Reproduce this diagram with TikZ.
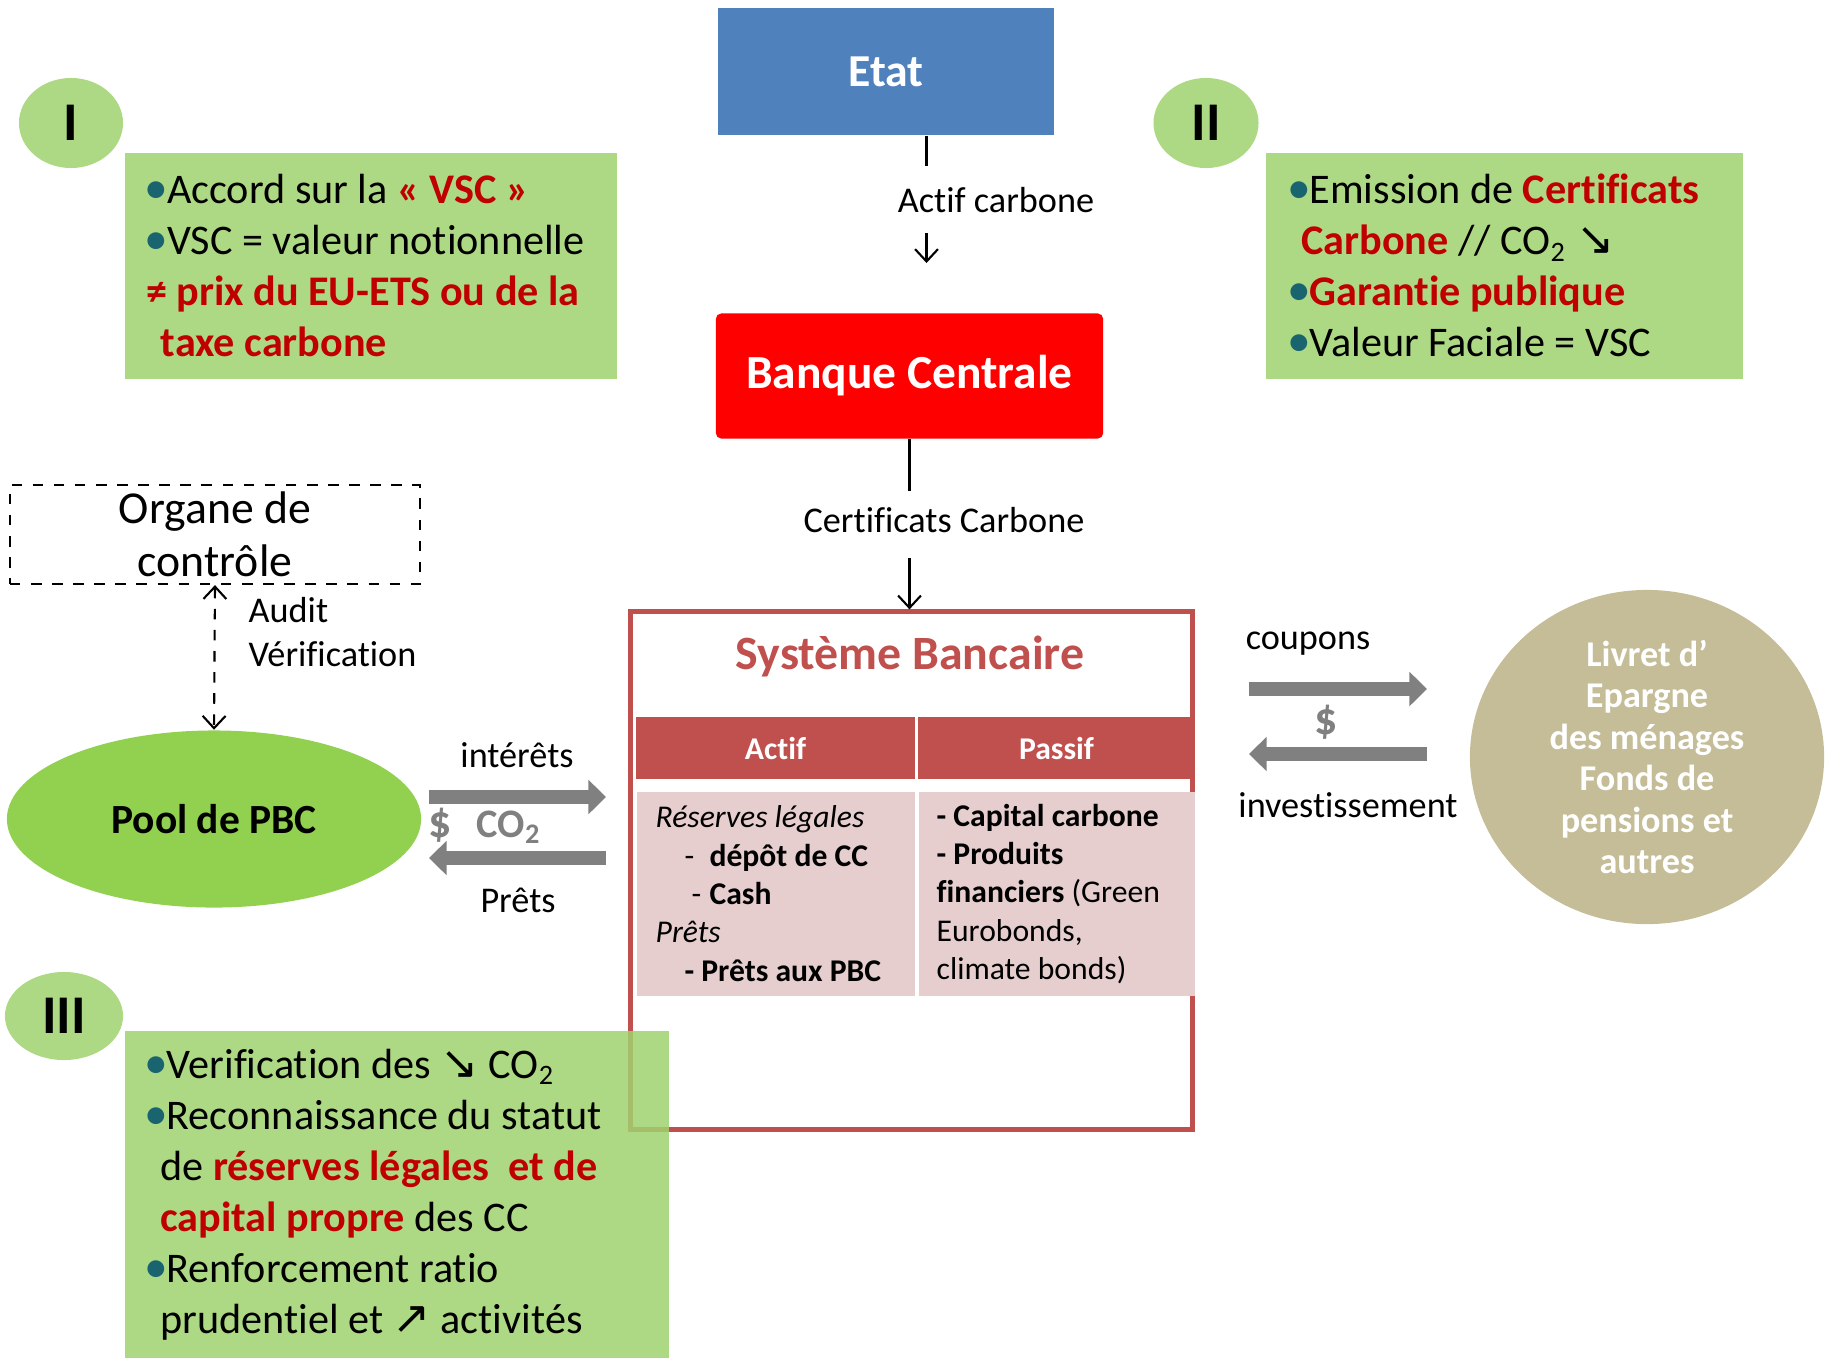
\documentclass[tikz,border=0pt]{standalone}
\usepackage{fontspec}
\setmainfont{Carlito}[Ligatures=NoCommon]
\newfontfamily\symfont{DejaVu Sans}
\usepackage{tikz}
\usetikzlibrary{arrows.meta,shapes.geometric,calc}
\definecolor{etatblue}{RGB}{79,129,189}
\definecolor{bcred}{RGB}{255,0,0}
\definecolor{sysred}{RGB}{192,80,77}
\definecolor{rowpink}{RGB}{230,206,207}
\definecolor{boxgreen}{RGB}{160,210,110}
\definecolor{poolgreen}{RGB}{146,208,80}
\definecolor{livretbeige}{RGB}{196,189,151}
\definecolor{txtred}{RGB}{192,0,0}
\definecolor{bulteal}{RGB}{25,100,110}
\definecolor{flowgrey}{RGB}{128,128,128}
\newcommand{\bul}{\makebox[6pt][c]{\textcolor{bulteal}{\fontsize{13.5}{14}\selectfont •}}}
\newcommand{\rd}[1]{\textcolor{txtred}{\textbf{#1}}}
\newcommand{\sedown}{{\symfont\fontsize{13}{14}\selectfont ↘}}
\newcommand{\neup}{{\symfont\fontsize{13}{14}\selectfont ↗}}

\begin{document}
\begin{tikzpicture}[x=0.01cm,y=-0.01cm,
  greenbox/.style={fill=boxgreen,fill opacity=0.85,text opacity=1,anchor=north west,align=flush left,inner ysep=0pt,font=\fontsize{12}{14.5}\selectfont},
  numcircle/.style={ellipse,fill=boxgreen,fill opacity=0.85,text opacity=1,inner sep=0pt,font=\fontsize{15.5}{18}\selectfont\bfseries},
  flowlabel/.style={inner sep=0pt,font=\fontsize{10.3}{12.5}\selectfont},
  headcell/.style={fill=sysred,text=white,inner sep=0pt,minimum height=0.61cm,font=\fontsize{9}{11}\selectfont\bfseries},
  bodycell/.style={fill=rowpink,anchor=north west,align=flush left,inner ysep=0pt,minimum height=2.04cm,text width=68.3pt,font=\fontsize{9}{10.9}\selectfont},
  thinline/.style={line width=0.6pt},
  thinarrow/.style={line width=0.6pt,-{Straight Barb[length=3.5pt,width=6.5pt]}},
  blockarrow/.style={draw=flowgrey,line width=4pt,-{Triangle[length=5pt,width=9.5pt]}}]
\useasboundingbox (0,0) rectangle (1825,1357);

\node[fill=etatblue,text=white,minimum width=3.36cm,minimum height=1.27cm,font=\fontsize{13}{15}\selectfont\bfseries] (etat) at (886,71.5) {Etat};
\node[fill=bcred,rounded corners=1.5pt,text=white,minimum width=3.87cm,minimum height=1.25cm,font=\fontsize{13.5}{16}\selectfont\bfseries] (banque) at (909.5,376) {Banque Centrale};

\node[flowlabel] (actiflbl) at (996,200) {Actif carbone};
\coordinate (a2) at (926.5,166);
\coordinate (a3) at (926.5,233);
\coordinate (a4) at (926.5,263);
\draw[thinline] (etat.south -| a2) -- (a2);
\draw[thinarrow] (a3) -- (a4);

\node[draw=sysred,line width=1.4pt,minimum width=5.61cm,minimum height=5.17cm] (systeme) at (911.5,870.5) {};
\node[text=sysred,inner sep=0pt,font=\fontsize{13.6}{15}\selectfont\bfseries] (systitle) at (910,656) {Système Bancaire};

\node[flowlabel] (certlbl) at (944,520) {Certificats Carbone};
\coordinate (c1) at ($(banque.south)+(0,52)$);
\coordinate (c2) at ($(banque.south)+(0,119)$);
\draw[thinline] (banque.south) -- (c1);
\draw[thinarrow] (c2) -- (c2 |- systeme.north);

\node[headcell,minimum width=2.79cm] (hactif) at (775.5,748) {Actif};
\node[headcell,minimum width=2.77cm] (hpassif) at (1056.5,748) {Passif};
\node[bodycell,inner xsep=5.4pt] (bactif) at (636,791) {{\itshape Réserves légales}\\
\hspace*{8.2pt}\makebox[7.1pt][l]{-}\textbf{dépôt de CC}\\
\hspace*{10.2pt}\makebox[5.1pt][l]{-}\textbf{Cash}\\
{\itshape Prêts}\\
\hspace*{8.2pt}\textbf{- Prêts aux PBC}};
\node[bodycell,inner xsep=5.1pt] (bpassif) at (918,791) {\textbf{- Capital carbone}\\
\textbf{- Produits}\\
\textbf{financiers} (Green\\
Eurobonds,\\
climate bonds)};

\node[draw,dashed,thinline,minimum width=4.1cm,minimum height=0.99cm,inner sep=0pt,align=center,font=\fontsize{13}{15.2}\selectfont] (organe) at (215,534.5) {Organe de\\contrôle};
\node[ellipse,fill=poolgreen,minimum width=4.14cm,minimum height=1.77cm,inner sep=0pt,font=\fontsize{11.8}{14}\selectfont\bfseries] (pool) at (214,819) {Pool de PBC};
\draw[thinline,dashed,{Straight Barb[length=3.5pt,width=6.5pt]}-{Straight Barb[length=3.5pt,width=6.5pt]}] (organe.south) -- (pool.north);
\node[flowlabel,anchor=west,align=left] (auditlbl) at (248,632) {Audit\\Vérification};

\coordinate (p1) at (429,797);
\coordinate (p2) at (606,797);
\coordinate (p3) at (606,858);
\coordinate (p4) at (429,858);
\draw[blockarrow] (p1) -- (p2);
\draw[blockarrow] (p3) -- (p4);
\node[flowlabel] (interets) at (517,755) {intérêts};
\node[flowlabel] (prets) at (518,900) {Prêts};
\node[flowlabel,text=flowgrey,font=\fontsize{11.5}{13}\selectfont\bfseries] (dollarco) at (485,826) {{\fontsize{13}{14}\selectfont\$}\hspace{7pt}CO\textsubscript{2}};

\node[ellipse,fill=livretbeige,text=white,minimum width=3.54cm,minimum height=3.34cm,inner sep=0pt,align=center,font=\fontsize{10.3}{11.8}\selectfont\bfseries] (livret) at (1647,757) {Livret d’\\Epargne\\des ménages\\Fonds de\\pensions et\\autres};
\coordinate (q1) at (1249,689);
\coordinate (q2) at (1427,689);
\coordinate (q3) at (1427,754);
\coordinate (q4) at (1249,754);
\draw[blockarrow] (q1) -- (q2);
\draw[blockarrow] (q3) -- (q4);
\node[flowlabel,text=flowgrey,font=\fontsize{13}{14}\selectfont\bfseries] (dollar) at (1326,722) {\$};
\node[flowlabel] (coupons) at (1308,644) {coupons};
\node[flowlabel] (invest) at (1348,805) {investissement};

\node[numcircle,minimum width=1.04cm,minimum height=0.9cm] (cI) at (71,123) {I};
\node[greenbox,minimum width=4.915cm,minimum height=2.26cm,inner xsep=5.5pt,text width=128pt] (boxI) at (124.5,152) {\bul Accord sur la \rd{« VSC »}\\
\mbox{\bul VSC = valeur notionnelle}\\
\mbox{\rd{≠ prix du EU-ETS ou de la}}\\
\hspace*{4.2pt}\rd{taxe carbone}};

\node[numcircle,minimum width=1.05cm,minimum height=0.9cm] (cII) at (1206,123) {II};
\node[greenbox,minimum width=4.77cm,minimum height=2.26cm,inner xsep=6.2pt,text width=122.8pt] (boxII) at (1265,152) {\mbox{\bul Emission de \rd{Certificats}}\\
\hspace*{3.7pt}\rd{Carbone} // CO\textsubscript{2} \sedown\\
\bul\rd{Garantie publique}\\
\bul Valeur Faciale = VSC};

\node[numcircle,minimum width=1.18cm,minimum height=0.88cm] (cIII) at (64,1016) {III};
\node[greenbox,minimum width=5.435cm,minimum height=3.27cm,inner xsep=5.5pt,text width=143pt] (boxIII) at (124.5,1030) {\bul Verification des \sedown\ CO\textsubscript{2}\\
\mbox{\bul Reconnaissance du statut}\\
\mbox{\hspace*{4.2pt}de \rd{réserves légales\ \ et de}}\\
\hspace*{4.2pt}\rd{capital propre} des CC\\
\bul Renforcement ratio\\
\mbox{\hspace*{4.2pt}prudentiel et \neup\ activités}};
\end{tikzpicture}
\end{document}
